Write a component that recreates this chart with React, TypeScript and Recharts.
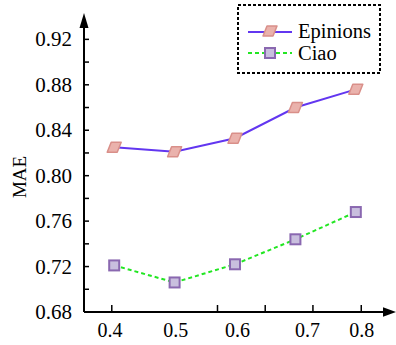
import { LineChart, Line, XAxis, YAxis } from 'recharts'

const xValues = [0.4, 0.5, 0.6, 0.7, 0.8]
const epinions = [0.825, 0.821, 0.833, 0.86, 0.876]
const ciao = [0.721, 0.706, 0.722, 0.744, 0.768]

// tick labels and tick marks sit at slightly different spots in the original
const xLabelTicks = [0.393, 0.502, 0.604, 0.72, 0.81]
const xLabels = ['0.4', '0.5', '0.6', '0.7', '0.8']
const xMarkTicks = [0.396, 0.571, 0.65, 0.729, 0.809]
const yTicks = [0.68, 0.7, 0.72, 0.74, 0.76, 0.78, 0.8, 0.82, 0.84, 0.86, 0.88, 0.9, 0.92]
const yLabelTicks = [0.68, 0.72, 0.76, 0.8, 0.84, 0.88, 0.92]

const data = xValues.map((x, i) => ({ x, epinions: epinions[i], ciao: ciao[i] }))

const W = 396
const H = 345
const M = { top: 28, right: 13, bottom: 0, left: 0 }
const Y_AXIS_W = 84
const X_AXIS_H = 33
const FONT = '"Liberation Serif", "Times New Roman", serif'

const COL = {
  epinions: '#6236f0',
  epFill: '#eab2ac',
  epStroke: '#d98f89',
  ciao: '#22e622',
  ciaoFill: '#c9bfde',
  ciaoStroke: '#8a68b0',
}

function Parallelogram({ cx, cy }: { cx: number; cy: number }) {
  const pts = `${cx - 3},${cy - 5} ${cx + 7},${cy - 5} ${cx + 3},${cy + 5} ${cx - 7},${cy + 5}`
  return <polygon points={pts} fill={COL.epFill} stroke={COL.epStroke} strokeWidth={1.5} strokeLinejoin="round" />
}

function Square({ cx, cy }: { cx: number; cy: number }) {
  return <rect x={cx - 5} y={cy - 5} width={10} height={10} fill={COL.ciaoFill} stroke={COL.ciaoStroke} strokeWidth={2} />
}

const epDot = (p: any) => <Parallelogram key={`ep-${p.index}`} cx={p.cx} cy={p.cy} />
const ciaoDot = (p: any) => <Square key={`ci-${p.index}`} cx={p.cx} cy={p.cy} />

function XTick({ x, y, payload }: any) {
  const v = payload.value
  const li = xLabelTicks.indexOf(v)
  if (li >= 0) {
    return (
      <text x={x} y={y + 25} textAnchor="middle" fontSize={20} fontFamily={FONT} fill="#000">
        {xLabels[li]}
      </text>
    )
  }
  return <line x1={x} x2={x} y1={y} y2={y - 7} stroke="#000" strokeWidth={1.5} />
}

function YTick({ x, y, payload }: any) {
  const v = payload.value
  return (
    <g>
      <line x1={x} x2={x + 5} y1={y} y2={y} stroke="#000" strokeWidth={1.5} />
      {yLabelTicks.includes(v) && (
        <text x={x - 12} y={y + 7} textAnchor="end" fontSize={21} fontFamily={FONT} fill="#000">
          {v.toFixed(2)}
        </text>
      )}
    </g>
  )
}

function Overlay() {
  const axisX = M.left + Y_AXIS_W
  const axisY = H - M.bottom - X_AXIS_H
  const plotRight = W - M.right
  return (
    <svg width={W} height={H} style={{ position: 'absolute', left: 0, top: 0, pointerEvents: 'none' }}>
      {/* axis arrows */}
      <polygon points={`${axisX},13 ${axisX - 4.5},${M.top} ${axisX + 4.5},${M.top}`} fill="#000" />
      <polygon points={`${W},${axisY} ${plotRight},${axisY - 4.7} ${plotRight},${axisY + 4.7}`} fill="#000" />
      <text
        x={0} y={0} transform="translate(26 177) rotate(-90)"
        textAnchor="middle" fontSize={19} fontFamily={FONT} fill="#000"
      >
        MAE
      </text>
      {/* legend */}
      <rect x={238} y={5} width={142} height={68} fill="#fff" stroke="#000" strokeWidth={2} strokeDasharray="3 2" />
      <line x1={248} x2={292} y1={32} y2={32} stroke={COL.epinions} strokeWidth={2} />
      <Parallelogram cx={270} cy={31} />
      <text x={298} y={37.5} fontSize={20.5} fontFamily={FONT} fill="#000">Epinions</text>
      <line x1={248} x2={292} y1={53} y2={53} stroke={COL.ciao} strokeWidth={2} strokeDasharray="4 3" />
      <Square cx={270} cy={53} />
      <text x={298} y={60} fontSize={20.5} fontFamily={FONT} fill="#000">Ciao</text>
    </svg>
  )
}

export default function App() {
  return (
    <div style={{ position: 'absolute', left: 0, top: 0, width: W, height: H, background: '#fff' }}>
      <LineChart width={W} height={H} data={data} margin={M}>
        <XAxis
          dataKey="x" type="number" domain={[0.35, 0.845]} allowDataOverflow
          ticks={[...xLabelTicks, ...xMarkTicks]} interval={0}
          tick={<XTick />} tickLine={false} tickSize={0} tickMargin={0}
          height={X_AXIS_H} axisLine={{ stroke: '#000', strokeWidth: 2 }}
        />
        <YAxis
          type="number" domain={[0.68, 0.93]} allowDataOverflow ticks={yTicks} interval={0}
          tick={<YTick />} tickLine={false} tickSize={0} tickMargin={0}
          width={Y_AXIS_W} axisLine={{ stroke: '#000', strokeWidth: 2 }}
        />
        <Line
          dataKey="ciao" stroke={COL.ciao} strokeWidth={2} strokeDasharray="4 3"
          dot={ciaoDot} activeDot={false} isAnimationActive={false}
        />
        <Line dataKey="epinions" stroke="none" dot={epDot} activeDot={false} isAnimationActive={false} />
        <Line dataKey="epinions" stroke={COL.epinions} strokeWidth={2} dot={false} activeDot={false} isAnimationActive={false} />
      </LineChart>
      <Overlay />
    </div>
  )
}
